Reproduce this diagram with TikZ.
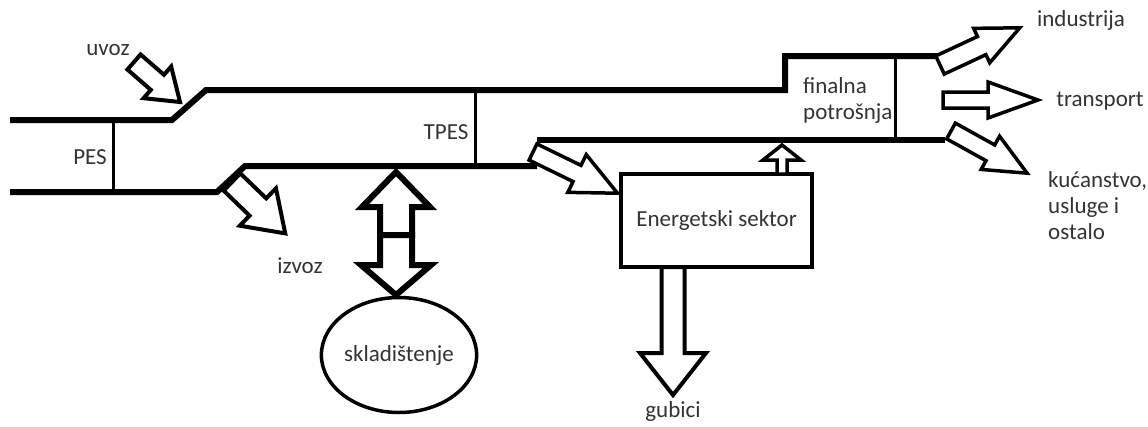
\documentclass[tikz,border=0pt]{standalone}
\usepackage{fontspec}
\setmainfont{Carlito}
\usetikzlibrary{shapes.geometric}
\tikzset{
  pipe/.style={line width=6pt, line join=miter},
  cut/.style={line width=3pt},
  lbl/.style={font=\fontsize{23}{26}\selectfont, inner sep=0pt, text=black!80},
  barrowstyle/.style={draw, line width=4pt, fill=white, line join=miter},
  boxstyle/.style={draw, line width=4pt, lbl, minimum width=191pt, minimum height=93pt},
  ellstyle/.style={draw, ellipse, line width=3.5pt, lbl, minimum width=142pt, minimum height=115pt}
}
% tail x, tail y, angle, length, shaft half, head half, head length, line width
\newcommand\blockarr[8]{%
  \draw[barrowstyle, line width=#8, shift={(#1,#2)}, rotate=#3]
    (0,-#5) -- ({#4-#7},-#5) -- ({#4-#7},-#6) -- (#4,0) -- ({#4-#7},#6) -- ({#4-#7},#5) -- (0,#5) -- cycle;}
\begin{document}
\begin{tikzpicture}[x=1pt,y=-1pt]
\useasboundingbox (0,0) rectangle (1148,426);
% pipeline coordinates
\coordinate (a1) at (10,120);
\coordinate (a2) at (172,120);
\coordinate (a3) at (206,90);
\coordinate (a4) at (785,90);
\coordinate (a5) at (785,56);
\coordinate (a6) at (940,56);
\coordinate (b1) at (10,192);
\coordinate (b2) at (217,192);
\coordinate (b3) at (245,166);
\coordinate (b4) at (537,166);
\coordinate (c1) at (537,140);
\coordinate (c2) at (945,140);
\draw[pipe] (a1) -- (a2) -- (a3) -- (a4) -- (a5) -- (a6);
\draw[pipe] (b1) -- (b2) -- (b3) -- (b4);
\draw[pipe] (c1) -- (c2);
\draw[cut] (113,120) coordinate (p1) -- (113,192) coordinate (p2);
\draw[cut] (475,90) coordinate (t1) -- (475,166) coordinate (t2);
\draw[cut] (895,56) coordinate (f1) -- (895,140) coordinate (f2);
% nodes
\node[boxstyle] (es) at (716.5,220.5) {Energetski sektor};
\node[ellstyle] (sk) at (399,355) {skladištenje};
\node[lbl] (uvoz) at (108,50) {uvoz};
\node[lbl] (pes) at (90,157) {PES};
\node[lbl] (tpes) at (446,132) {TPES};
\node[lbl] (izvoz) at (300,266) {izvoz};
\node[lbl, align=left, anchor=west] (fin) at (803,100) {finalna\\potrošnja};
\node[lbl] (ind) at (1081,20) {industrija};
\node[lbl] (tr) at (1100,101) {transport};
\node[lbl, align=left, anchor=west] (kuc) at (1048,206) {kućanstvo,\\usluge i\\ostalo};
\node[lbl] (gub) at (673,411) {gubici};
% block arrows
\blockarr{134}{62}{-41}{61}{10}{21}{30}{4pt}
\blockarr{232}{182}{-44}{74}{12}{26}{38}{4pt}
\blockarr{533}{152}{-26}{94}{9}{21}{45}{3.5pt}
\blockarr{940}{65}{25}{88}{10}{19}{42}{3.5pt}
\blockarr{943}{100}{0}{95}{8}{18}{50}{3.5pt}
\blockarr{951}{131}{-29}{87}{9}{19}{42}{3.5pt}
\blockarr{782}{174}{90}{29}{5}{19}{15}{3.5pt}
\blockarr{673}{267}{-90}{128}{11.5}{33}{42}{4pt}
\blockarr{396}{235}{90}{63}{16}{34}{35}{6pt}
\blockarr{396}{235}{-90}{60}{16}{35}{30}{6pt}
\end{tikzpicture}
\end{document}
